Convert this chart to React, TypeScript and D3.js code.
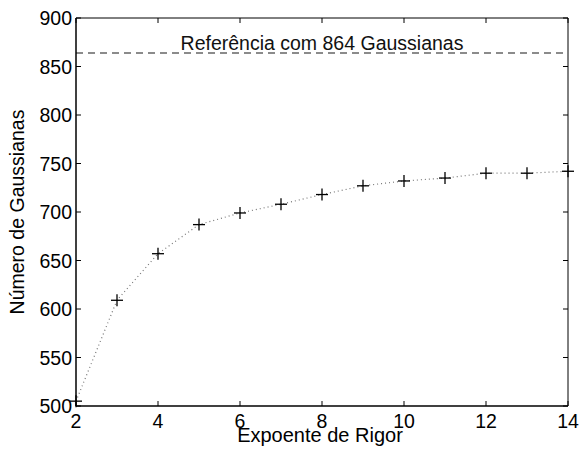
import React from "react";
import * as d3 from "d3";

// Rigor exponent vs. number of Gaussians
const exponents = [2, 3, 4, 5, 6, 7, 8, 9, 10, 11, 12, 13, 14];
const gaussianCounts = [505, 609, 657, 687, 699, 708, 718, 727, 732, 735, 740, 740, 742];
const referenceCount = 864;
const referenceLabel = "Referência com 864 Gaussianas";
const xTicks = [2, 4, 6, 8, 10, 12, 14];
const yTicks = [500, 550, 600, 650, 700, 750, 800, 850, 900];
const xLabel = "Expoente de Rigor";
const yLabel = "Número de Gaussianas";

const W = 580;
const H = 449;
const M = { left: 76, right: 12, top: 18, bottom: 43 };

export default function App() {
  const x = d3.scaleLinear().domain([2, 14]).range([M.left, W - M.right]);
  const y = d3.scaleLinear().domain([500, 900]).range([H - M.bottom, M.top]);
  const pts = exponents.map((e, i) => [e, gaussianCounts[i]] as [number, number]);
  const line = d3
    .line<[number, number]>()
    .x((d) => x(d[0]))
    .y((d) => y(d[1]));
  const x0 = x.range()[0];
  const x1 = x.range()[1];
  const y0 = y.range()[0];
  const y1 = y.range()[1];
  const font = "Liberation Sans, Arial, sans-serif";
  const fs = 19.5;
  const tickLen = 5;

  return (
    <svg
      width={W}
      height={H}
      style={{ position: "absolute", left: 0, top: 0, background: "#fff" }}
      fontFamily={font}
    >
      {/* reference line */}
      <line
        x1={x0}
        x2={x1}
        y1={y(referenceCount)}
        y2={y(referenceCount)}
        stroke="#666"
        strokeWidth={1.5}
        strokeDasharray="7,5"
      />
      <text
        x={(x0 + x1) / 2}
        y={y(referenceCount) - 2.5}
        textAnchor="middle"
        fontSize={fs}
        fill="#111"
      >
        {referenceLabel}
      </text>
      {/* data series */}
      <path
        d={line(pts) ?? ""}
        fill="none"
        stroke="#777"
        strokeWidth={1.2}
        strokeDasharray="1,3"
      />
      {pts.map((d, i) => (
        <g key={i} stroke="#000" strokeWidth={1.3}>
          <line x1={x(d[0]) - 6} x2={x(d[0]) + 6} y1={y(d[1])} y2={y(d[1])} />
          <line x1={x(d[0])} x2={x(d[0])} y1={y(d[1]) - 6} y2={y(d[1]) + 6} />
        </g>
      ))}
      {/* axes box */}
      <line x1={x0} x2={x1} y1={y1} y2={y1} stroke="#000" strokeWidth={1} />
      <line x1={x1} x2={x1} y1={y1} y2={y0} stroke="#000" strokeWidth={1} />
      <line x1={x0} x2={x1} y1={y0} y2={y0} stroke="#000" strokeWidth={1.5} />
      <line x1={x0} x2={x0} y1={y1} y2={y0} stroke="#000" strokeWidth={1.5} />
      {/* x ticks */}
      {xTicks.map((t) => (
        <g key={"x" + t}>
          <line x1={x(t)} x2={x(t)} y1={y0} y2={y0 - tickLen} stroke="#000" />
          <line x1={x(t)} x2={x(t)} y1={y1} y2={y1 + tickLen} stroke="#000" />
          <text x={x(t)} y={y0 + 22} textAnchor="middle" fontSize={fs} fill="#000">
            {t}
          </text>
        </g>
      ))}
      {/* y ticks */}
      {yTicks.map((t) => (
        <g key={"y" + t}>
          <line x1={x0} x2={x0 + tickLen} y1={y(t)} y2={y(t)} stroke="#000" />
          <line x1={x1} x2={x1 - tickLen} y1={y(t)} y2={y(t)} stroke="#000" />
          <text
            x={x0 - 4}
            y={y(t) + 7}
            textAnchor="end"
            fontSize={fs}
            fill="#000"
          >
            {t}
          </text>
        </g>
      ))}
      <text
        x={320}
        y={442}
        textAnchor="middle"
        fontSize={20}
        fill="#000"
      >
        {xLabel}
      </text>
      <text
        transform={`translate(24, ${(y0 + y1) / 2}) rotate(-90)`}
        textAnchor="middle"
        fontSize={fs}
        fill="#000"
      >
        {yLabel}
      </text>
    </svg>
  );
}
